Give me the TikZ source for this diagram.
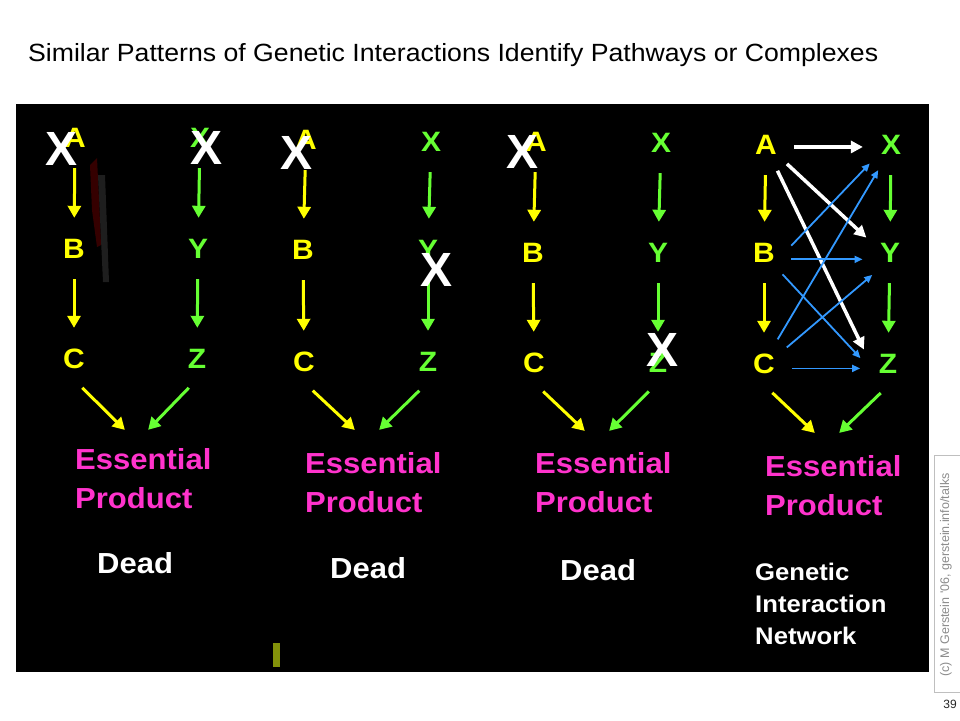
\documentclass[tikz,border=0pt]{standalone}
\usepackage{fontspec}
\setmainfont{Liberation Sans}[FakeStretch=1.07]
\newfontfamily\plainfont{Liberation Sans}
\usetikzlibrary{arrows.meta}

\definecolor{geneyellow}{RGB}{255,255,0}
\definecolor{genegreen}{RGB}{102,255,51}
\definecolor{genepink}{RGB}{255,51,204}
\definecolor{geneblue}{RGB}{51,153,255}

\begin{document}
\begin{tikzpicture}[x=1pt,y=-1pt]
  \tikzset{gene/.style={circle, inner sep=0pt, minimum size=56pt, font=\fontsize{28}{30}\selectfont\bfseries},
    knockout/.style={inner sep=0pt, text=white, font=\plainfont\fontsize{48}{50}\selectfont\bfseries},
    product/.style={anchor=north west, inner sep=0pt, align=left, text=genepink, font=\fontsize{29}{39}\selectfont\bfseries},
    dead/.style={anchor=base west, inner sep=0pt, text=white, font=\fontsize{29}{30}\selectfont\bfseries},
    flow/.style={->, >={Triangle[length=12pt,width=13pt]}, line width=3pt, shorten <=2pt, shorten >=3pt},
    link/.style={->, >={Triangle[length=12pt,width=12pt]}, line width=3.5pt, white},
    cross/.style={->, >={Triangle[length=8pt,width=7pt]}, line width=1.8pt, geneblue}}
  \useasboundingbox (0,0) rectangle (960,720);
  \fill[white] (0,0) rectangle (960,720);
  \fill[black] (16,104) rectangle (929,672);

  \node[anchor=base west, inner sep=0pt, font=\fontsize{24.9}{26}\selectfont] at (28,61) (title) {Similar Patterns of Genetic Interactions Identify Pathways or Complexes};

  % stray marks on the slide
  \fill[red!35!black, opacity=0.6] (90,165) -- (97,158) -- (99,200) -- (101,245) -- (97,247) -- (92,210) -- cycle;
  \fill[black!80!white, opacity=0.6] (98,175) -- (105,175) -- (109,282) -- (103,282) -- cycle;
  \fill[olive!80!green] (273,643) rectangle (280,667);

  % panel 1
  \node[gene, text=geneyellow] at (75,138) (A_1) {A};
  \node[gene, text=geneyellow] at (74,249) (B_1) {B};
  \node[gene, text=geneyellow] at (74,359) (C_1) {C};
  \node[gene, text=genegreen] at (200,138) (X_1) {X};
  \node[gene, text=genegreen] at (198,249) (Y_1) {Y};
  \node[gene, text=genegreen] at (197,359) (Z_1) {Z};
  \node[product] at (75,448) (P_1) {Essential\\Product};
  \node[dead] at (97,573) (D_1) {Dead};
  \coordinate (P_1y) at (127,432);
  \coordinate (P_1g) at (146,432);

  % panel 2
  \node[gene, text=geneyellow] at (306,140) (A_2) {A};
  \node[gene, text=geneyellow] at (303,250) (B_2) {B};
  \node[gene, text=geneyellow] at (304,362) (C_2) {C};
  \node[gene, text=genegreen] at (431,142) (X_2) {X};
  \node[gene, text=genegreen] at (428,250) (Y_2) {Y};
  \node[gene, text=genegreen] at (428,362) (Z_2) {Z};
  \node[product] at (305,452) (P_2) {Essential\\Product};
  \node[dead] at (330,578) (D_2) {Dead};
  \coordinate (P_2y) at (357,432);
  \coordinate (P_2g) at (377,432);

  % panel 3
  \node[gene, text=geneyellow] at (536,142) (A_3) {A};
  \node[gene, text=geneyellow] at (533,253) (B_3) {B};
  \node[gene, text=geneyellow] at (534,363) (C_3) {C};
  \node[gene, text=genegreen] at (661,143) (X_3) {X};
  \node[gene, text=genegreen] at (658,253) (Y_3) {Y};
  \node[gene, text=genegreen] at (658,363) (Z_3) {Z};
  \node[product] at (535,452) (P_3) {Essential\\Product};
  \node[dead] at (560,580) (D_3) {Dead};
  \coordinate (P_3y) at (587,433);
  \coordinate (P_3g) at (607,433);

  % panel 4
  \node[gene, text=geneyellow] at (766,145) (A_4) {A};
  \node[gene, text=geneyellow] at (764,253) (B_4) {B};
  \node[gene, text=geneyellow] at (764,364) (C_4) {C};
  \node[gene, text=genegreen] at (891,145) (X_4) {X};
  \node[gene, text=genegreen] at (890,253) (Y_4) {Y};
  \node[gene, text=genegreen] at (888,364) (Z_4) {Z};
  \node[product] at (765,455) (P_4) {Essential\\Product};
  \node[anchor=north west, inner sep=0pt, align=left, text=white, font=\fontsize{24}{32}\selectfont\bfseries] at (755,563) (N_4) {Genetic\\Interaction\\Network};
  \coordinate (P_4y) at (817,435);
  \coordinate (P_4g) at (837,435);

    \path[flow, color=geneyellow] (A_1) edge (B_1);
    \path[flow, color=geneyellow] (B_1) edge (C_1);
    \path[flow, color=genegreen] (X_1) edge (Y_1);
    \path[flow, color=genegreen] (Y_1) edge (Z_1);
    \path[flow, color=geneyellow] (C_1.-76) edge (P_1y);
    \path[flow, color=genegreen] (Z_1.-104) edge (P_1g);

    \path[flow, color=geneyellow] (A_2) edge (B_2);
    \path[flow, color=geneyellow] (B_2) edge (C_2);
    \path[flow, color=genegreen] (X_2) edge (Y_2);
    \path[flow, color=genegreen] (Y_2) edge (Z_2);
    \path[flow, color=geneyellow] (C_2.-75) edge (P_2y);
    \path[flow, color=genegreen] (Z_2.-105) edge (P_2g);

    \path[flow, color=geneyellow] (A_3) edge (B_3);
    \path[flow, color=geneyellow] (B_3) edge (C_3);
    \path[flow, color=genegreen] (X_3) edge (Y_3);
    \path[flow, color=genegreen] (Y_3) edge (Z_3);
    \path[flow, color=geneyellow] (C_3.-74) edge (P_3y);
    \path[flow, color=genegreen] (Z_3.-106) edge (P_3g);

    \path[flow, color=geneyellow] (A_4) edge (B_4);
    \path[flow, color=geneyellow] (B_4) edge (C_4);
    \path[flow, color=genegreen] (X_4) edge (Y_4);
    \path[flow, color=genegreen] (Y_4) edge (Z_4);
    \path[flow, color=geneyellow] (C_4.-76) edge (P_4y);
    \path[flow, color=genegreen] (Z_4.-102) edge (P_4g);
    \path[link] (A_4.-4) edge (X_4.184);
    \path[link] (A_4.-42) edge (Y_4.147);
    \path[link] (A_4.-66) edge (Z_4.149);
    \path[cross] (B_4.15) edge (X_4.221);
    \path[cross] (B_4.-13) edge (Y_4.193);
    \path[cross] (B_4.-49) edge (Z_4.168);
    \path[cross] (C_4.61) edge (X_4.243);
    \path[cross] (C_4.36) edge (Y_4.231);
    \path[cross] (C_4.-9) edge (Z_4.189);

  % knocked-out genes
  \node[knockout] at (62,149) (K_1a) {X};
  \node[knockout] at (207,148) (K_1b) {X};
  \node[knockout] at (297,153) (K_2a) {X};
  \node[knockout] at (437,270) (K_2b) {X};
  \node[knockout] at (522,152) (K_3a) {X};
  \node[knockout] at (662,350) (K_3b) {X};

  % credit strip
  \draw[black!25, line width=0.6pt] (962,692) -- (934,692) -- (934,455) -- (962,455);
  \node[rotate=90, inner sep=0pt, text=black!45, font=\plainfont\fontsize{12.5}{13}\selectfont] at (946,575) (credit) {(c) M Gerstein '06, gerstein.info/talks};
  \node[inner sep=0pt, text=black!85, font=\plainfont\fontsize{12}{13}\selectfont] at (950,704) (page) {39};
\end{tikzpicture}
\end{document}
